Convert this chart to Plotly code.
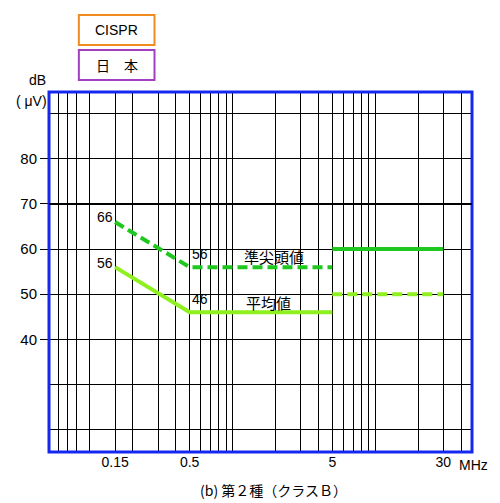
import plotly.graph_objects as go
import numpy as np

qp_f1 = [0.15, 0.5, 5]
qp_v1 = [66, 56, 56]
qp_f2 = [5, 30]
qp_v2 = [60, 60]
av_f1 = [0.15, 0.5, 5]
av_v1 = [56, 46, 46]
av_f2 = [5, 30]
av_v2 = [50, 50]
x_ticks = [0.15, 0.5, 5, 30]
x_ticktext = ["0.15", "0.5", "5", "30"]
y_ticks = [40, 50, 60, 70, 80]
x_grid = [0.06, 0.07, 0.08, 0.1, 0.15, 0.2, 0.3, 0.4, 0.5, 0.6, 0.7, 0.8, 0.9, 1,
          2, 3, 4, 5, 6, 7, 8, 9, 10, 20, 30, 40]
y_grid = [20, 30, 90]

DARK = "#1ec81e"
LIGHT = "#8ef01e"
F = "Liberation Sans, Arial"
J = "Noto Sans CJK JP"

def px(x): return (x - 47) / 425
def py(y): return (452 - y) / 360

fig = go.Figure()
fig.add_trace(go.Scatter(x=qp_f1, y=qp_v1, mode="lines", line=dict(color=DARK, width=4, dash="10px,5px")))
fig.add_trace(go.Scatter(x=qp_f2, y=qp_v2, mode="lines", line=dict(color=DARK, width=4)))
fig.add_trace(go.Scatter(x=av_f1, y=av_v1, mode="lines", line=dict(color=LIGHT, width=4)))
fig.add_trace(go.Scatter(x=av_f2, y=av_v2, mode="lines", line=dict(color=LIGHT, width=4, dash="10px,5px")))

ann = []
def a(x, y, t, xref="x", yref="y", size=14, font=F, xanchor="center", yanchor="middle"):
    ann.append(dict(x=x, y=y, text=t, xref=xref, yref=yref, showarrow=False,
                    font=dict(family=font, size=size, color="black"),
                    xanchor=xanchor, yanchor=yanchor))
a(np.log10(qp_f1[0]), qp_v1[0] + 1, str(qp_v1[0]), xanchor="right")
a(np.log10(av_f1[0]), av_v1[0] + 1, str(av_v1[0]), xanchor="right")
a(np.log10(qp_f1[1]), qp_v1[1] + 3, str(qp_v1[1]), xanchor="left")
a(np.log10(av_f1[1]), av_v1[1] + 3, str(av_v1[1]), xanchor="left")
a(px(273), py(256), "準尖頭値", xref="paper", yref="paper", font=J, size=15)
a(px(268), py(302), "平均値", xref="paper", yref="paper", font=J, size=15)
a(px(474), py(465), "MHz", xref="paper", yref="paper")
a(px(273), py(490), "(b) 第２種（クラスＢ）", xref="paper", yref="paper", font=J, size=14)
a(px(35), py(80), "dB", xref="paper", yref="paper")
a(px(29), py(101), "( μV)", xref="paper", yref="paper")
a(px(115), py(30), "CISPR", xref="paper", yref="paper", size=14)
a(px(115), py(65), "日　本", xref="paper", yref="paper", font=J, size=14)

shapes = [
    dict(type="rect", xref="paper", yref="paper", x0=px(77), x1=px(153), y0=py(45), y1=py(15),
         line=dict(color="#f08c1e", width=2)),
    dict(type="rect", xref="paper", yref="paper", x0=px(77), x1=px(153), y0=py(80), y1=py(50),
         line=dict(color="#a040c0", width=2)),
    dict(type="rect", xref="x domain", yref="y domain", x0=0, x1=1, y0=0, y1=1,
         line=dict(color="#1428f0", width=3)),
    dict(type="line", xref="x domain", yref="y", x0=0, x1=1, y0=70, y1=70,
         line=dict(color="black", width=2)),
]

fig.update_layout(
    width=500, height=503, showlegend=False, paper_bgcolor="white", plot_bgcolor="white",
    margin=dict(l=39, r=36, t=84, b=59),
    annotations=ann, shapes=shapes,
    xaxis=dict(type="log", range=[np.log10(0.0516), np.log10(47.7)], tickvals=x_ticks,
               ticktext=x_ticktext, showgrid=False, zeroline=False, ticks="",
               tickfont=dict(family=F, size=14, color="black"),
               minor=dict(tickvals=x_grid, showgrid=True, gridcolor="black", gridwidth=1, ticks="")),
    yaxis=dict(range=[15.05, 94.8], tickvals=y_ticks, showgrid=True, gridcolor="black", gridwidth=1,
               zeroline=False, ticks="outside", ticklen=8, tickcolor="black",
               tickfont=dict(family=F, size=15, color="black"),
               minor=dict(tickvals=y_grid, showgrid=True, gridcolor="black", gridwidth=1, ticks="")),
)
fig.write_html("out.html")
